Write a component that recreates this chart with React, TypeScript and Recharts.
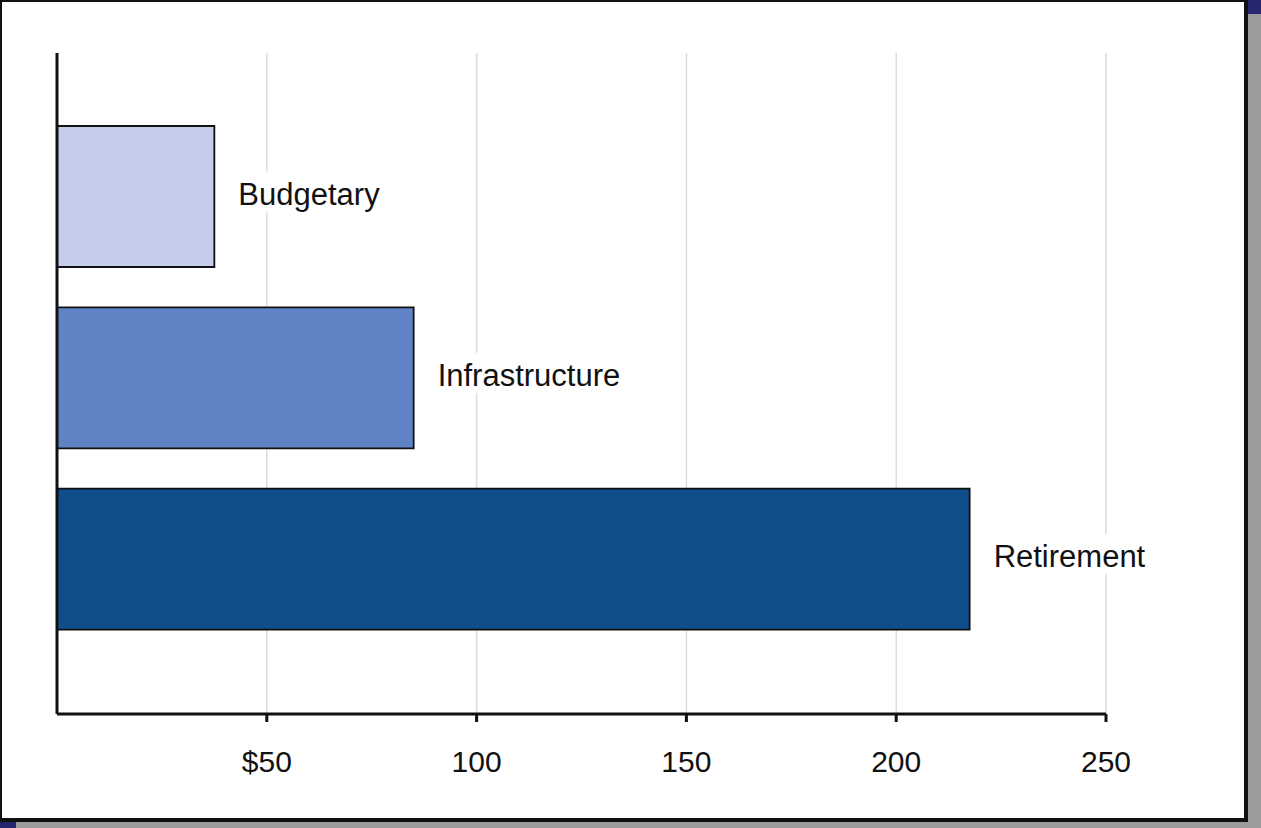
import * as React from "react";
import { Bar, BarChart, CartesianGrid, Cell, LabelList, XAxis, YAxis } from "recharts";

const categories = ["Budgetary", "Infrastructure", "Retirement"];
const amounts = [37.5, 85, 217.5];
const barColors = ["#C4CDEA", "#6083C5", "#0D4E8B"];
const xTicks = [50, 100, 150, 200, 250];
const xTickLabels = ["$50", "100", "150", "200", "250"];

const data = categories.map((name, i) => ({ name, value: amounts[i] }));

const FONT = '"Liberation Sans", Arial, Helvetica, sans-serif';

function AxisTick({ x, y, payload }: { x?: number; y?: number; payload?: { value: number } }) {
  const idx = xTicks.indexOf(payload?.value ?? -1);
  return (
    <text
      x={x}
      y={y}
      dy={48}
      textAnchor="middle"
      fontFamily={FONT}
      fontSize={30}
      fill="#111"
    >
      {idx >= 0 ? xTickLabels[idx] : payload?.value}
    </text>
  );
}

function BarName(props: any) {
  const { x, y, width, height, value } = props;
  const tx = Number(x) + Number(width) + 24;
  const cy = Number(y) + Number(height) / 2;
  const w = String(value).length * 16;
  return (
    <g>
      <rect x={tx - 4} y={cy - 25} width={w + 8} height={40} fill="#fff" />
      <text x={tx} y={cy} dominantBaseline="middle" fontFamily={FONT} fontSize={31} fill="#111">
        {value}
      </text>
    </g>
  );
}

export default function App() {
  return (
    <div
      style={{
        position: "fixed",
        left: 0,
        top: 0,
        width: 1261,
        height: 828,
        background: "#9b9b9b",
        overflow: "hidden",
      }}
    >
      <div style={{ position: "absolute", left: 1248, top: 0, width: 13, height: 14, background: "#26266e" }} />
      <div style={{ position: "absolute", left: 0, top: 822, width: 16, height: 6, background: "#26266e" }} />
      <div
        style={{
          position: "absolute",
          left: 0,
          top: 0,
          width: 1248,
          height: 822,
          boxSizing: "border-box",
          background: "#fff",
          borderStyle: "solid",
          borderColor: "#111",
          borderWidth: "2px 4px 4px 2px",
        }}
      >
        <div style={{ position: "absolute", left: -2, top: -2 }}>
          <BarChart
            width={1247}
            height={821}
            data={data}
            layout="vertical"
            margin={{ top: 53, left: 47, right: 141, bottom: 47 }}
          >
            <CartesianGrid horizontal={false} stroke="#dcdcdc" strokeWidth={1.5} />
            <XAxis
              type="number"
              domain={[0, 250]}
              ticks={xTicks}
              height={60}
              tick={<AxisTick />}
              tickSize={8}
              tickLine={{ stroke: "#111", strokeWidth: 3 }}
              axisLine={{ stroke: "#111", strokeWidth: 3 }}
            />
            <YAxis
              type="category"
              dataKey="name"
              width={10}
              tick={false}
              tickLine={false}
              axisLine={{ stroke: "#111", strokeWidth: 3 }}
              padding={{ top: 53, bottom: 64 }}
            />
            <Bar dataKey="value" barSize={141} stroke="#111" strokeWidth={1.8} isAnimationActive={false}>
              {data.map((_, i) => (
                <Cell key={i} fill={barColors[i]} />
              ))}
              <LabelList dataKey="name" content={<BarName />} />
            </Bar>
          </BarChart>
        </div>
      </div>
    </div>
  );
}
